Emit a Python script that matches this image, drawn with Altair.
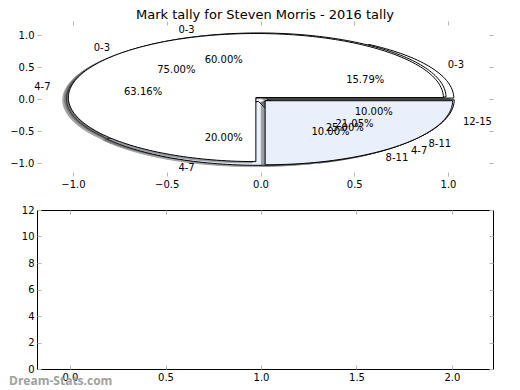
import numpy as np
import pandas as pd
import altair as alt

# ---------------- data ----------------
title_text = "Mark tally for Steven Morris - 2016 tally"
watermark = "Dream-Stats.com"

# three pies drawn on top of each other (draw order: C, B, A)
pie_order = ["C", "B", "A"]
labels_A = ["0-3", "4-7"]
counts_A = [3, 1]
labels_B = ["0-3", "4-7", "8-11", "12-15"]
counts_B = [6, 2, 1, 1]
labels_C = ["0-3", "4-7", "8-11"]
counts_C = [3, 12, 4]
wedge_colors = ["#ffffff", "#eaf0fb", "#ffffff", "#eaf0fb"]

xt_top = [-1.0, -0.5, 0.0, 0.5, 1.0]
yt_top = [-1.0, -0.5, 0.0, 0.5, 1.0]
xt_bot = [0.0, 0.5, 1.0, 1.5, 2.0]
yt_bot = [0, 2, 4, 6, 8, 10, 12]

# ---------------- style ----------------
EXPLODE = 0.035
SHADOW = (-0.02, -0.02)
X_TOP = [-1.192, 1.24]
Y_TOP = [-1.2, 1.22]
X_BOT = [-0.173, 2.215]
Y_BOT = [0, 12]
W = 456
H_TOP = 155
H_BOT = 159
FONT = "DejaVu Sans"

pies = {"A": (labels_A, counts_A), "B": (labels_B, counts_B), "C": (labels_C, counts_C)}

poly_rows, text_rows = [], []
for pie in pie_order:
    labs, cnts = pies[pie]
    total = float(sum(cnts))
    acc = 0.0
    for k, (lab, c) in enumerate(zip(labs, cnts)):
        t1 = 360.0 * acc / total
        acc += c
        t2 = 360.0 * acc / total
        mid = np.deg2rad((t1 + t2) / 2)
        cx, cy = EXPLODE * np.cos(mid), EXPLODE * np.sin(mid)
        th = np.deg2rad(np.linspace(t1, t2, max(int((t2 - t1) / 1.5), 3)))
        px = np.concatenate([[cx], cx + np.cos(th), [cx]])
        py = np.concatenate([[cy], cy + np.sin(th), [cy]])
        for kind, (dx, dy) in (("shadow", SHADOW), ("wedge", (0.0, 0.0))):
            for i, (a, b) in enumerate(zip(px, py)):
                poly_rows.append(dict(pie=pie, wedge=k, kind=kind, i=i, x=a + dx, y=b + dy,
                                      fill=wedge_colors[k % len(wedge_colors)]))
        lx, ly = cx + 1.1 * np.cos(mid), cy + 1.1 * np.sin(mid)
        text_rows.append(dict(pie=pie, x=lx, y=ly, text=lab, side="left" if lx > 0 else "right"))
        text_rows.append(dict(pie=pie, x=cx + 0.6 * np.cos(mid), y=cy + 0.6 * np.sin(mid),
                              text=f"{100.0 * c / total:.2f}%", side="center"))

poly_df = pd.DataFrame(poly_rows)
text_df = pd.DataFrame(text_rows)


def axis(orient, values, fmt, labels=True):
    return alt.Axis(orient=orient, values=values, format=fmt, title=None, domain=False,
                    grid=False, offset=-4, tickSize=4, tickColor="#b5b5b5", tickWidth=1,
                    labels=labels, labelPadding=3, labelFontSize=10, labelFont=FONT,
                    labelColor="black", labelFlush=False, minExtent=0)


def xenc(ax, domain):
    return alt.X("x:Q", scale=alt.Scale(domain=domain, nice=False, zero=False), axis=ax)


def yenc(ax, domain):
    return alt.Y("y:Q", scale=alt.Scale(domain=domain, nice=False, zero=False), axis=ax)


layers = []
first = True
for pie in pie_order:
    for kind in ("shadow", "wedge"):
        ax_x = axis("bottom", xt_top, ".1f") if first else None
        ax_y = axis("left", yt_top, ".1f") if first else None
        first = False
        base = alt.Chart(poly_df).transform_filter(
            (alt.datum.pie == pie) & (alt.datum.kind == kind))
        if kind == "shadow":
            m = base.mark_line(fill="#4d4d4d", stroke="#4d4d4d", strokeWidth=1, opacity=0.5)
            enc = dict()
        else:
            m = base.mark_line(stroke="black", strokeWidth=1)
            enc = dict(fill=alt.Fill("fill:N", scale=None))
        layers.append(m.encode(x=xenc(ax_x, X_TOP), y=yenc(ax_y, Y_TOP),
                               order=alt.Order("i:Q"), detail="wedge:N", **enc))

for side in ("left", "right", "center"):
    tb = alt.Chart(text_df).transform_filter(alt.datum.side == side).mark_text(
        align=side, baseline="middle", fontSize=10, font=FONT, color="black")
    if side == "center":
        ex = xenc(axis("top", xt_top, ".1f", labels=False), X_TOP)
        ey = yenc(axis("right", yt_top, ".1f", labels=False), Y_TOP)
    else:
        ex = xenc(None, X_TOP)
        ey = yenc(None, Y_TOP)
    layers.append(tb.encode(x=ex, y=ey, text="text:N"))

top = alt.layer(*layers).properties(
    width=W, height=H_TOP,
    title=alt.TitleParams(title_text, fontSize=13, font=FONT, fontWeight="normal",
                          color="black", offset=-1, anchor="middle"),
    view=alt.ViewBackground(stroke=None),
)

grid_df = pd.DataFrame([(a, b) for a in xt_bot for b in yt_bot], columns=["x", "y"])
bot_a = alt.Chart(grid_df).mark_point(opacity=0).encode(
    x=xenc(axis("bottom", xt_bot, ".1f"), X_BOT), y=yenc(axis("left", yt_bot, "d"), Y_BOT))
bot_b = alt.Chart(grid_df).mark_point(opacity=0).encode(
    x=xenc(axis("top", xt_bot, ".1f", labels=False), X_BOT),
    y=yenc(axis("right", yt_bot, "d", labels=False), Y_BOT))
wm = alt.Chart(pd.DataFrame({"t": [watermark]})).mark_text(
    align="left", baseline="middle", fontSize=12, font="Open Sans", fontWeight="bold",
    color="#a0a0a0").encode(text="t:N", x=alt.value(-28), y=alt.value(H_BOT + 12))
bottom = alt.layer(bot_a, bot_b, wm).properties(
    width=W, height=H_BOT, view=alt.ViewBackground(stroke="black", strokeWidth=1))

chart = alt.vconcat(top, bottom, spacing=15).configure(
    font=FONT, padding=0, background="white")

chart.save("out.html", embed_options={"renderer": "svg", "actions": False})
